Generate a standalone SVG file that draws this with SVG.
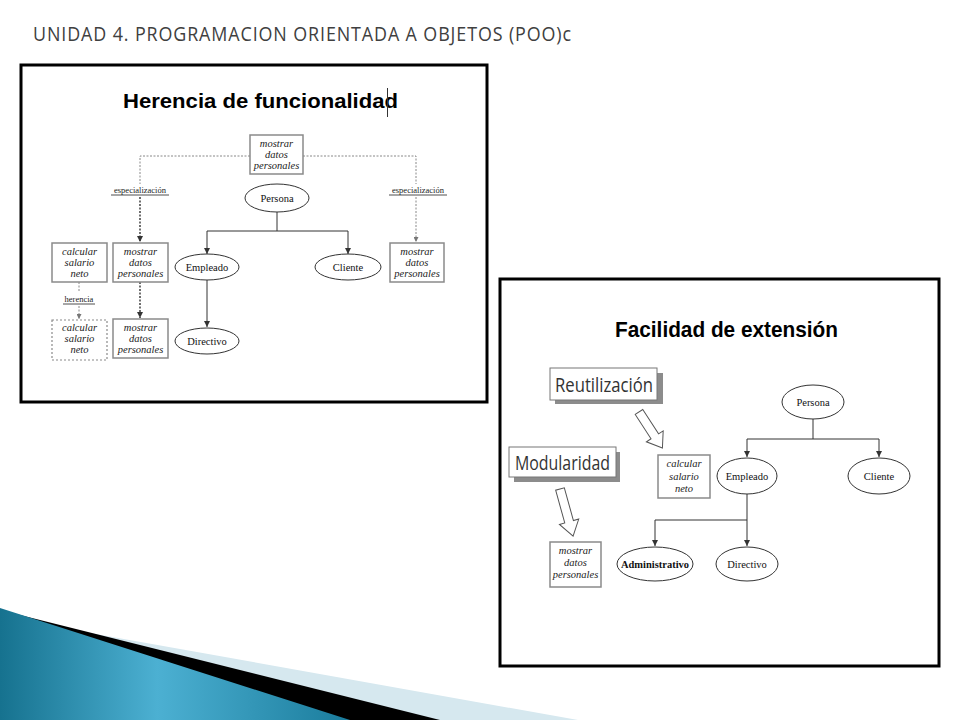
<svg xmlns="http://www.w3.org/2000/svg" width="960" height="720" viewBox="0 0 960 720">
<defs>
<linearGradient id="blueG" x1="0" y1="0" x2="1" y2="0">
<stop offset="0" stop-color="#16728f"/>
<stop offset="0.45" stop-color="#4cb0d2"/>
<stop offset="1" stop-color="#1a7c9c"/>
</linearGradient>
<marker id="ah" viewBox="0 0 6 6" refX="6" refY="3" markerWidth="6" markerHeight="6" markerUnits="userSpaceOnUse" orient="auto">
<path d="M0,0 L6,3 L0,6 z" fill="#333"/>
</marker>
<marker id="ahg" viewBox="0 0 6 6" refX="6" refY="3" markerWidth="5" markerHeight="5" markerUnits="userSpaceOnUse" orient="auto">
<path d="M0,0 L6,3 L0,6 z" fill="#777"/>
</marker>
</defs>
<style>
.title{font-family:"Open Sans","Liberation Sans",sans-serif;font-size:20px;fill:#404040;letter-spacing:1px}
.panel{fill:#fff;stroke:#000;stroke-width:3}
.h{font-family:"Liberation Sans",Arial,sans-serif;font-weight:bold;fill:#000}
.box{fill:#fff;stroke:#8a8a8a;stroke-width:1.5}
.dbox{fill:#fff;stroke:#8a8a8a;stroke-width:1.2;stroke-dasharray:2,2}
.it{font-family:"Liberation Serif","Times New Roman",serif;font-style:italic;font-size:10.5px;fill:#222;text-anchor:middle}
.ell{fill:#fff;stroke:#333;stroke-width:1}
.el{font-family:"Liberation Serif","Times New Roman",serif;font-size:10.5px;fill:#111;text-anchor:middle}
.lbl{font-family:"Liberation Serif","Times New Roman",serif;font-size:8.5px;fill:#222;text-anchor:middle}
.ul{stroke:#222;stroke-width:0.8}
.solid{fill:none;stroke:#333;stroke-width:1}
.dotg{fill:none;stroke:#888;stroke-width:1;stroke-dasharray:2,1.5}
.dotk{fill:none;stroke:#222;stroke-width:1.3;stroke-dasharray:2,1.5}
.tag{fill:#fff;stroke:#777;stroke-width:1}
.tagsh{fill:#8c8c8c}
.tagt{font-family:"Open Sans","Liberation Sans",sans-serif;font-size:20px;fill:#333}
.barrow{fill:#fff;stroke:#555;stroke-width:1}
</style>
<rect width="960" height="720" fill="#fff"/>

<!-- bottom-left decoration -->
<polygon points="0,617 578,720 0,720" fill="#d6e8ef"/>
<polygon points="0,610 440,720 0,720" fill="#000"/>
<polygon points="0,608 350,720 0,720" fill="url(#blueG)"/>

<text class="title" x="33" y="41" textLength="539" lengthAdjust="spacingAndGlyphs">UNIDAD 4. PROGRAMACION ORIENTADA A OBJETOS (POO)c</text>

<!-- LEFT PANEL -->
<g id="panel-herencia">
<rect class="panel" x="21" y="65" width="466" height="337"/>
<text class="h" x="123" y="108" font-size="21" textLength="275" lengthAdjust="spacingAndGlyphs">Herencia de funcionalidad</text>
<line x1="387.5" y1="88" x2="387.5" y2="117" stroke="#333" stroke-width="1"/>
</g>

<g id="connectors-left">
<polyline class="dotg" points="250,156 140,156 140,184"/>
<polyline class="dotk" points="140,197 140,242" marker-end="url(#ah)"/>
<polyline class="dotg" points="303,156 416,156 416,184"/>
<polyline class="dotg" points="416,197 416,242" marker-end="url(#ahg)"/>
<polyline class="dotk" points="140,282 140,318" marker-end="url(#ah)"/>
<polyline class="dotg" points="79,282 79,292"/>
<polyline class="dotg" points="79,306 79,319" marker-end="url(#ahg)"/>
<polyline class="solid" points="277,212 277,231"/>
<polyline class="solid" points="207,231 348,231"/>
<polyline class="solid" points="207,231 207,254" marker-end="url(#ah)"/>
<polyline class="solid" points="348,231 348,254" marker-end="url(#ah)"/>
<polyline class="solid" points="207,280 207,327" marker-end="url(#ah)"/>
<text class="lbl" x="140" y="193">especialización</text>
<line class="ul" x1="111" y1="195" x2="169" y2="195"/>
<text class="lbl" x="418" y="193">especialización</text>
<line class="ul" x1="389" y1="195" x2="447" y2="195"/>
<text class="lbl" x="79" y="302">herencia</text>
<line class="ul" x1="63" y1="304" x2="95" y2="304"/>
</g>

<g id="l-top-mostrar">
<rect class="box" x="250" y="135" width="53" height="39"/>
<text class="it" x="276.5" y="147">mostrar</text>
<text class="it" x="276.5" y="158">datos</text>
<text class="it" x="276.5" y="169">personales</text>
</g>
<g id="l-persona">
<ellipse class="ell" cx="277" cy="198" rx="32" ry="14"/>
<text class="el" x="277" y="202">Persona</text>
</g>
<g id="l-empleado">
<ellipse class="ell" cx="207" cy="267" rx="32" ry="13"/>
<text class="el" x="207" y="271">Empleado</text>
</g>
<g id="l-cliente">
<ellipse class="ell" cx="348" cy="267" rx="33" ry="13"/>
<text class="el" x="348" y="271">Cliente</text>
</g>
<g id="l-directivo">
<ellipse class="ell" cx="207" cy="341" rx="32" ry="13"/>
<text class="el" x="207" y="345">Directivo</text>
</g>
<g id="l-calcular">
<rect class="box" x="52" y="243" width="55" height="39"/>
<text class="it" x="79.5" y="255">calcular</text>
<text class="it" x="79.5" y="266">salario</text>
<text class="it" x="79.5" y="277">neto</text>
</g>
<g id="l-mostrar-1">
<rect class="box" x="113" y="243" width="55" height="39"/>
<text class="it" x="140.5" y="255">mostrar</text>
<text class="it" x="140.5" y="266">datos</text>
<text class="it" x="140.5" y="277">personales</text>
</g>
<g id="l-calcular-dashed">
<rect class="dbox" x="52" y="320" width="55" height="40"/>
<text class="it" x="79.5" y="331">calcular</text>
<text class="it" x="79.5" y="342">salario</text>
<text class="it" x="79.5" y="353">neto</text>
</g>
<g id="l-mostrar-2">
<rect class="box" x="113" y="319" width="55" height="39"/>
<text class="it" x="140.5" y="331">mostrar</text>
<text class="it" x="140.5" y="342">datos</text>
<text class="it" x="140.5" y="353">personales</text>
</g>
<g id="l-mostrar-right">
<rect class="box" x="390" y="243" width="54" height="39"/>
<text class="it" x="417" y="255">mostrar</text>
<text class="it" x="417" y="266">datos</text>
<text class="it" x="417" y="277">personales</text>
</g>

<!-- RIGHT PANEL -->
<g id="panel-extension">
<rect class="panel" x="500" y="279" width="439" height="387"/>
<text class="h" x="615" y="337" font-size="22" textLength="223" lengthAdjust="spacingAndGlyphs">Facilidad de extensión</text>
</g>

<g id="connectors-right">
<polyline class="solid" points="813,419 813,439"/>
<polyline class="solid" points="747,439 879,439"/>
<polyline class="solid" points="747,439 747,457" marker-end="url(#ah)"/>
<polyline class="solid" points="879,439 879,457" marker-end="url(#ah)"/>
<polyline class="solid" points="747,494 747,546" marker-end="url(#ah)"/>
<polyline class="solid" points="655,520 747,520"/>
<polyline class="solid" points="655,520 655,546" marker-end="url(#ah)"/>
</g>

<g id="r-reutilizacion">
<rect class="tagsh" x="555" y="373" width="108" height="31"/>
<rect class="tag" x="550" y="368" width="107" height="32"/>
<text class="tagt" x="555" y="392" textLength="98" lengthAdjust="spacingAndGlyphs">Reutilización</text>
</g>
<g id="r-modularidad">
<rect class="tagsh" x="514" y="452" width="106" height="30"/>
<rect class="tag" x="509" y="447" width="107" height="30"/>
<text class="tagt" x="515" y="470" textLength="95" lengthAdjust="spacingAndGlyphs">Modularidad</text>
</g>
<g id="r-arrow-1" transform="translate(639,412) rotate(57)">
<path class="barrow" d="M0,-4.5 L29,-4.5 L29,-10 L43,0 L29,10 L29,4.5 L0,4.5 Z"/>
</g>
<g id="r-arrow-2" transform="translate(560,489) rotate(74.5)">
<path class="barrow" d="M0,-4.5 L34,-4.5 L34,-10 L49,0 L34,10 L34,4.5 L0,4.5 Z"/>
</g>
<g id="r-calcular">
<rect class="box" x="658" y="455" width="52" height="43"/>
<text class="it" x="684" y="467">calcular</text>
<text class="it" x="684" y="480">salario</text>
<text class="it" x="684" y="492">neto</text>
</g>
<g id="r-mostrar">
<rect class="box" x="550" y="542" width="51" height="45"/>
<text class="it" x="575.5" y="554">mostrar</text>
<text class="it" x="575.5" y="566">datos</text>
<text class="it" x="575.5" y="578">personales</text>
</g>
<g id="r-persona">
<ellipse class="ell" cx="813" cy="402" rx="31" ry="17"/>
<text class="el" x="813" y="406" font-size="10">Persona</text>
</g>
<g id="r-empleado">
<ellipse class="ell" cx="747" cy="476" rx="30" ry="18"/>
<text class="el" x="747" y="480">Empleado</text>
</g>
<g id="r-cliente">
<ellipse class="ell" cx="879" cy="476" rx="31" ry="18"/>
<text class="el" x="879" y="480">Cliente</text>
</g>
<g id="r-administrativo">
<ellipse class="ell" cx="655" cy="564" rx="38" ry="17" stroke-width="2.2" stroke="#111"/>
<text class="el" x="655" y="568" font-weight="bold" textLength="68" lengthAdjust="spacingAndGlyphs">Administrativo</text>
</g>
<g id="r-directivo">
<ellipse class="ell" cx="747" cy="564" rx="31" ry="17"/>
<text class="el" x="747" y="568">Directivo</text>
</g>
</svg>
